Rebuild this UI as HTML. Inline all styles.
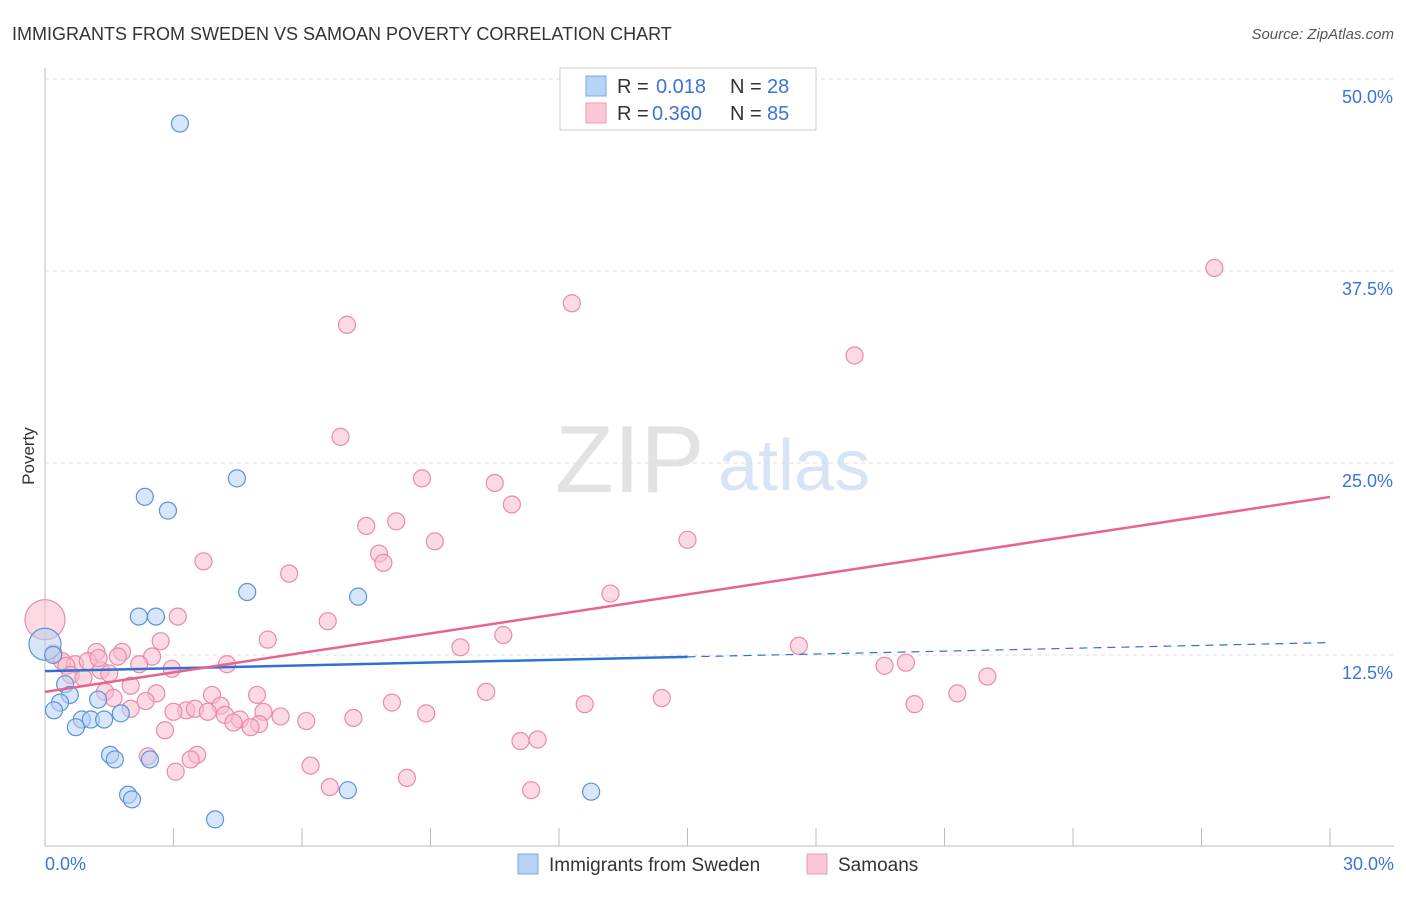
<!DOCTYPE html>
<html><head><meta charset="utf-8"><style>
body{margin:0;background:#fff;font-family:"Liberation Sans",sans-serif}
svg text{font-family:"Liberation Sans",sans-serif}
</style></head><body>
<svg id="c" width="1406" height="892">
<text x="12" y="40" font-size="18" fill="#333">IMMIGRANTS FROM SWEDEN VS SAMOAN POVERTY CORRELATION CHART</text>
<text x="1394" y="39" font-size="15" fill="#555" text-anchor="end" font-style="italic">Source: ZipAtlas.com</text>
<text x="34" y="456" font-size="17" fill="#333" transform="rotate(-90 34 456)" text-anchor="middle">Poverty</text>
<text x="555" y="492" font-size="96" fill="#e2e2e2" font-family="Liberation Serif">ZIP</text>
<text x="718" y="490" font-size="72" fill="#d6e4f5">atlas</text>
<g id="grid"></g><g id="marks"></g>
<g>
<rect x="560" y="68" width="256" height="62" fill="#fff" stroke="#ccc"/>
<rect x="586" y="76" width="20" height="20" fill="#b8d4f5" stroke="#7aa8e0"/>
<rect x="586" y="103" width="20" height="20" fill="#f9c7d6" stroke="#ee9ab5"/>
<text x="617" y="93" font-size="20" fill="#333">R =</text><text x="656" y="93" font-size="20" fill="#3a74d6">0.018</text>
<text x="730" y="93" font-size="20" fill="#333">N =</text><text x="767" y="93" font-size="20" fill="#3a74d6">28</text>
<text x="617" y="120" font-size="20" fill="#333">R =</text><text x="652" y="120" font-size="20" fill="#3a74d6">0.360</text>
<text x="730" y="120" font-size="20" fill="#333">N =</text><text x="767" y="120" font-size="20" fill="#3a74d6">85</text>
</g>
<g>
<rect x="518" y="854" width="20" height="20" fill="#b8d4f5" stroke="#7aa8e0"/>
<text x="549" y="871" font-size="19" fill="#333">Immigrants from Sweden</text>
<rect x="807" y="854" width="20" height="20" fill="#f9c7d6" stroke="#ee9ab5"/>
<text x="838" y="871" font-size="19" fill="#333">Samoans</text>
</g>
</svg>
<script>
const xTicks=[0,3,6,9,12,15,18,21,24,27,30];
const yTicks=[12.5,25,37.5,50];
const swedenX=[3.15,4.48,2.33,2.87,4.72,7.31,2.19,2.59,0,0.19,0.47,0.58,1.24,0.35,0.21,1.77,0.86,1.07,1.38,0.72,1.52,1.63,2.45,1.94,2.03,7.07,12.75,3.97];
const swedenY=[47.1,24.0,22.8,21.9,16.6,16.3,15.0,15.0,13.2,12.5,10.6,9.9,9.6,9.4,8.9,8.7,8.3,8.3,8.3,7.8,6.0,5.7,5.7,3.4,3.1,3.7,3.6,1.8];
const samoanX=[27.3,12.3,7.05,18.9,6.9,8.8,10.5,10.9,7.5,8.2,9.1,15.0,7.8,7.9,3.7,5.7,13.2,3.1,6.6,0,10.7,5.2,2.7,9.7,17.6,1.2,1.8,0.2,1.7,2.5,0.4,0.7,1.0,2.2,0.5,1.3,4.25,2.96,1.5,0.6,19.6,20.1,22.0,2.0,10.3,2.6,3.9,1.4,4.95,1.6,21.3,8.1,12.6,20.3,2.0,4.1,3.3,3.5,5.1,5.5,3.8,4.2,8.9,7.2,6.1,4.55,4.4,5.0,4.8,2.8,11.1,11.5,2.4,3.55,3.4,6.2,3.05,8.45,6.65,11.35,0.9,1.25,3.0,2.35,14.4];
const samoanY=[37.7,35.4,34.0,32.0,26.7,24.0,23.7,22.3,20.9,21.2,19.9,20.0,19.1,18.5,18.6,17.8,16.5,15.0,14.7,14.8,13.8,13.5,13.4,13.0,13.1,12.7,12.7,12.6,12.4,12.4,12.1,11.9,12.1,11.9,11.8,11.5,11.9,11.6,11.3,11.2,11.8,12.0,11.1,10.5,10.1,10.0,9.9,10.1,9.9,9.7,10.0,9.4,9.3,9.3,9.0,9.2,8.9,9.0,8.8,8.5,8.8,8.6,8.7,8.4,8.2,8.3,8.1,8.0,7.8,7.6,6.9,7.0,5.9,6.0,5.7,5.3,4.9,4.5,3.9,3.7,11.0,12.3,8.8,9.5,9.7];
const swedenTrend=[11.45,0.062];
const samoanTrend=[10.1,0.423];
const X=v=>45+v/30*1285, Y=v=>847-v/12.5*192;
const NS='http://www.w3.org/2000/svg';
const g=document.getElementById('grid'), m=document.getElementById('marks');
function el(t,a,p){const e=document.createElementNS(NS,t);for(const k in a)e.setAttribute(k,a[k]);p.appendChild(e);return e;}
const ax=el('line',{x1:45,y1:68,x2:45,y2:846,stroke:'#bbb'},g);


const bx=el('line',{x1:45,y1:846,x2:1394,y2:846,stroke:'#bbb'},g);


yTicks.forEach(t=>{const l=el('line',{x1:45,y1:Y(t),x2:1394,y2:Y(t),stroke:'#ddd','stroke-dasharray':'4 4'},g);


const tx=el('text',{x:1393,y:Y(t)+24,'font-size':18,fill:'#3a74d6','text-anchor':'end'},g);tx.textContent=t.toFixed(1)+'%';

});
xTicks.forEach(t=>{const l=el('line',{x1:X(t),y1:828,x2:X(t),y2:846,stroke:'#bbb'},g);

});
[[0,'start',45],[30,'end',1394]].forEach(([t,a,x])=>{const tx=el('text',{x:x,y:870,'font-size':18,fill:'#3a74d6','text-anchor':a},g);tx.textContent=t.toFixed(1)+'%';

});
function pts(xs,ys,fill,stroke,name){xs.forEach((x,i)=>{const r=(x===0)?(name==='sweden-point'?16:20):8.5;
const c=el('circle',{cx:X(x),cy:Y(ys[i]),r:r,fill:fill,'fill-opacity':0.55,stroke:stroke,'stroke-width':1.2},m);

});}
pts(samoanX,samoanY,'#f7bccd','#eb8aa8','samoan-point');
pts(swedenX,swedenY,'#b6d2f3','#5a93dc','sweden-point');
const [ba,bb]=swedenTrend,[pa,pb]=samoanTrend;
const l1=el('line',{x1:X(0),y1:Y(ba),x2:X(15),y2:Y(ba+bb*15),stroke:'#2f6fd6','stroke-width':2.5},m);


const l2=el('line',{x1:X(15),y1:Y(ba+bb*15),x2:X(30),y2:Y(ba+bb*30),stroke:'#2f6fd6','stroke-width':1.2,'stroke-dasharray':'8 6'},m);


const l3=el('line',{x1:X(0),y1:Y(pa),x2:X(30),y2:Y(pa+pb*30),stroke:'#e8648d','stroke-width':2.5},m);


</script>
</body></html>
